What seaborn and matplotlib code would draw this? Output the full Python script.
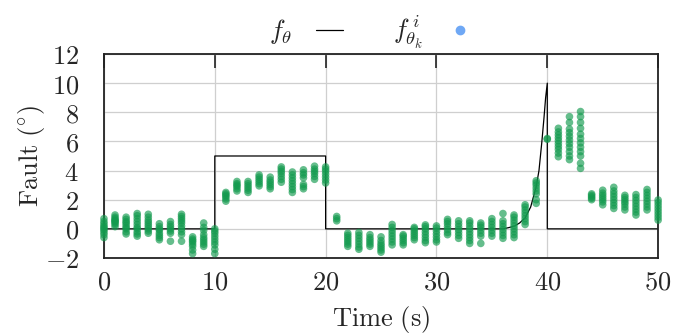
import numpy as np
import pandas as pd
import matplotlib
matplotlib.use("Agg")
import matplotlib.pyplot as plt
import seaborn as sns
from matplotlib.lines import Line2D
from matplotlib.ticker import FuncFormatter

# true fault signal f_theta
line_t = [0, 10, 10, 20, 20, 36, 36.5, 37, 37.5, 38, 38.5, 39, 39.25, 39.5, 39.7, 39.85, 40, 40, 50]
line_v = [0, 0, 5, 5, 0, 0, 0.08, 0.18, 0.4, 0.75, 1.5, 2.9, 4.0, 5.9, 7.6, 9.0, 10, 0, 0]

# estimated faults per time step (one list per second)
est = {
    0: [-0.6, -0.4, -0.25, -0.1, 0.0, 0.1, 0.2, 0.35, 0.5, 0.7],
    1: [0.15, 0.3, 0.4, 0.5, 0.55, 0.6, 0.7, 0.8, 0.95],
    2: [-0.35, -0.2, 0.0, 0.1, 0.25, 0.4, 0.5, 0.65, 0.8],
    3: [-0.5, -0.35, -0.2, 0.0, 0.1, 0.3, 0.5, 0.7, 0.9, 1.05],
    4: [-0.3, -0.15, 0.0, 0.15, 0.3, 0.45, 0.6, 0.8, 1.0],
    5: [-0.75, -0.6, -0.45, -0.3, -0.1, 0.0, 0.15, 0.35],
    6: [-0.85, -0.3, -0.15, 0.0, 0.15, 0.3, 0.5],
    7: [-0.85, -0.4, -0.2, 0.0, 0.2, 0.4, 0.55, 0.7, 0.85, 1.0],
    8: [-1.7, -1.45, -1.2, -1.05, -0.9, -0.8, -0.7, -0.55],
    9: [-1.2, -1.05, -0.9, -0.75, -0.6, -0.4, -0.1, 0.1, 0.4],
    10: [-1.7, -1.4, -1.1, -0.9, -0.7, -0.5, -0.3, -0.15, 0.0],
    11: [1.9, 2.05, 2.2, 2.3, 2.4, 2.5],
    12: [2.6, 2.75, 2.9, 3.0, 3.1, 3.25],
    13: [2.5, 2.65, 2.8, 2.95, 3.1, 3.25],
    14: [2.95, 3.1, 3.25, 3.4, 3.55, 3.7],
    15: [2.75, 2.9, 3.05, 3.2, 3.35, 3.55],
    16: [3.2, 3.4, 3.6, 3.8, 3.95, 4.1, 4.25],
    17: [2.5, 2.7, 2.9, 3.1, 3.3, 3.5, 3.7, 3.9],
    18: [2.75, 2.9, 3.05, 3.5, 3.7, 3.85, 4.05],
    19: [3.4, 3.6, 3.8, 3.95, 4.1, 4.3],
    20: [3.15, 3.35, 3.55, 3.75, 3.95, 4.1, 4.25],
    21: [0.55, 0.7, 0.85],
    22: [-1.2, -1.05, -0.9, -0.75, -0.6, -0.45, -0.3],
    23: [-1.4, -1.25, -1.05, -0.85, -0.65, -0.45, -0.25],
    24: [-1.2, -1.05, -0.9, -0.75, -0.6, -0.4],
    25: [-1.6, -1.45, -1.3, -1.15, -1.0, -0.8, -0.55],
    26: [-1.1, -0.9, -0.7, -0.5, -0.3, -0.1, 0.1, 0.3],
    27: [-1.1, -0.95, -0.8, -0.65, -0.5, -0.4],
    28: [-0.75, -0.6, -0.45, -0.3, -0.15, 0.0, 0.1],
    29: [-0.95, -0.8, -0.6, -0.4, -0.2, 0.0, 0.15, 0.27],
    30: [-0.9, -0.75, -0.55, -0.35, -0.15, 0.05, 0.2],
    31: [-0.4, -0.25, -0.05, 0.15, 0.35, 0.5, 0.65],
    32: [-0.65, -0.45, -0.25, -0.05, 0.15, 0.35, 0.55],
    33: [-1.0, -0.8, -0.6, -0.4, -0.2, 0.0, 0.2, 0.4, 0.55],
    34: [-1.0, -0.5, -0.3, -0.1, 0.1, 0.25, 0.4],
    35: [-0.5, -0.3, -0.1, 0.1, 0.3, 0.5, 0.7],
    36: [-0.65, -0.45, -0.25, -0.05, 0.15, 0.35, 0.55, 1.05],
    37: [-0.6, -0.4, -0.2, 0.0, 0.2, 0.4, 0.6, 0.8, 0.95],
    38: [0.3, 0.5, 0.7, 0.9, 1.1, 1.3, 1.5, 1.65],
    39: [1.75, 2.0, 2.4, 2.6, 2.8, 3.0, 3.15, 3.3],
    40: [6.15, 6.2],
    41: [4.95, 5.2, 5.45, 5.65, 5.85, 6.05, 6.25, 6.45, 6.65, 6.9],
    42: [4.75, 5.0, 5.3, 5.6, 5.85, 6.1, 6.35, 6.6, 6.85, 7.3, 7.7],
    43: [4.15, 4.5, 5.0, 5.3, 5.6, 5.9, 6.2, 6.5, 6.9, 7.3, 7.7, 8.05],
    44: [2.0, 2.1, 2.2, 2.3, 2.4],
    45: [1.65, 1.85, 2.0, 2.15, 2.3, 2.45, 2.65],
    46: [1.4, 1.6, 1.8, 2.0, 2.2, 2.4, 2.6, 2.85],
    47: [1.3, 1.5, 1.7, 1.85, 2.0, 2.15, 2.3],
    48: [0.95, 1.15, 1.35, 1.55, 1.75, 1.95, 2.15, 2.35],
    49: [1.3, 1.5, 1.7, 1.9, 2.1, 2.3, 2.5, 2.7],
    50: [0.6, 0.8, 1.0, 1.2, 1.4, 1.6, 1.8, 1.98],
}

xticks = [0, 10, 20, 30, 40, 50]
yticks = [-2, 0, 2, 4, 6, 8, 10, 12]

pts = pd.DataFrame([(t, v) for t, vals in est.items() for v in vals], columns=["t", "v"])

sns.set_style("white")
plt.rcParams["mathtext.fontset"] = "cm"
plt.rcParams["font.family"] = ["DejaVu Serif"]
fs = 19

fig = plt.figure(figsize=(6.75, 3.35), dpi=100)
ax = fig.add_axes([0.154, 0.2299, 0.821, 0.6089])

ax.grid(True, color="#cfcfcf", linewidth=0.9)
ax.set_axisbelow(True)

sns.scatterplot(data=pts, x="t", y="v", ax=ax, color="#139a4e", alpha=0.65,
                s=30, edgecolor="none", clip_on=False, zorder=3, legend=False)
sns.lineplot(x=line_t, y=line_v, ax=ax, color="black", linewidth=0.9,
             estimator=None, sort=False, zorder=2)

ax.set_xlim(0, 50)
ax.set_ylim(-2, 12)
ax.set_xticks(xticks)
ax.set_yticks(yticks)
fmt = FuncFormatter(lambda v, p: f"${v:g}$")
ax.xaxis.set_major_formatter(fmt)
ax.yaxis.set_major_formatter(fmt)
ax.tick_params(axis="x", direction="in", length=10, width=1.2, top=True,
               labelsize=fs, pad=8, color="#222222")
ax.tick_params(axis="y", direction="in", length=10, width=1.2, right=False,
               labelsize=fs, pad=18, color="#222222")
for sp in ax.spines.values():
    sp.set_color("#222222")
    sp.set_linewidth(1.3)

ax.set_xlabel(r"$\mathrm{Time\ (s)}$", fontsize=fs, labelpad=7)
ax.set_ylabel(r"$\mathrm{Fault\ (^{\circ})}$", fontsize=fs, labelpad=-2)

handles = [Line2D([], [], color="black", linewidth=0.9),
           Line2D([], [], color="#6fa8f5", marker="o", linestyle="none", markersize=6)]
labels = [r"$f_{\theta}$", r"$f_{\theta_k}^{\,i}$"]
fig.legend(handles, labels, loc="upper center", bbox_to_anchor=(0.55, 1.03),
           ncol=2, frameon=False, markerfirst=False, fontsize=fs,
           handlelength=1.0, handletextpad=0.9, columnspacing=1.9)

fig.savefig("out.png", dpi=100)
